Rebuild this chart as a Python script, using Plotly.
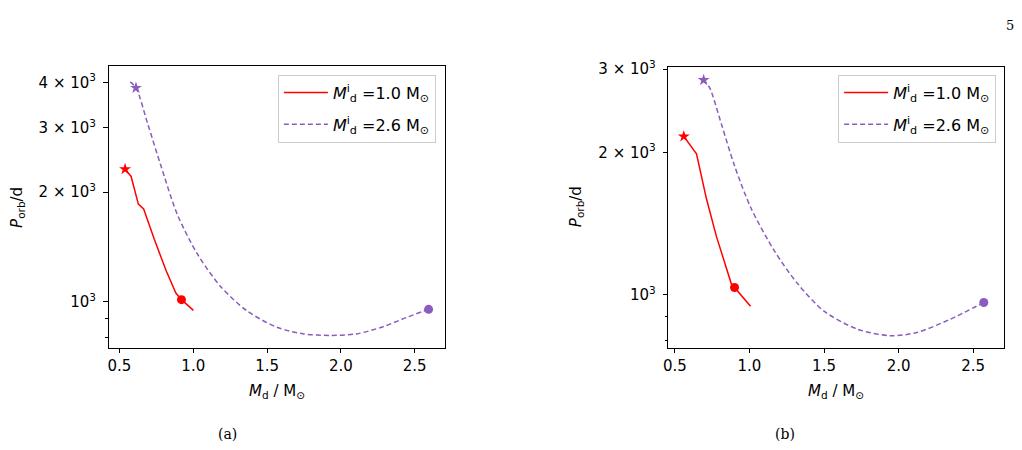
import numpy as np
import plotly.graph_objects as go

# ---------------- data ----------------
# panel (a)
red_a_m = [1.001, 0.920, 0.882, 0.815, 0.736, 0.664, 0.628, 0.579, 0.538]
red_a_p = [948, 1014, 1057, 1221, 1485, 1799, 1854, 2208, 2312]
pur_a_m = [2.594, 2.443, 2.286, 2.106, 1.926, 1.747, 1.567, 1.365, 1.185, 1.028, 0.893, 0.781, 0.691, 0.612, 0.567]
pur_a_p = [954, 906, 855, 817, 809, 817, 852, 944, 1102, 1353, 1733, 2361, 3083, 3864, 4029]
red_a_star = (0.538, 2312)
red_a_dot = (0.920, 1014)
pur_a_star = (0.612, 3864)
pur_a_dot = (2.594, 954)

# panel (b)
red_b_m = [1.007, 0.900, 0.878, 0.778, 0.711, 0.645, 0.560]
red_b_p = [946, 1037, 1057, 1331, 1600, 1987, 2162]
pur_b_m = [2.571, 2.344, 2.122, 1.944, 1.722, 1.500, 1.322, 1.167, 1.011, 0.900, 0.811, 0.733, 0.693]
pur_b_p = [964, 888, 833, 820, 847, 924, 1057, 1239, 1524, 1874, 2301, 2741, 2844]
red_b_star = (0.560, 2162)
red_b_dot = (0.900, 1037)
pur_b_star = (0.693, 2844)
pur_b_dot = (2.571, 964)

labels = ["<i>M</i><sup>i</sup><sub>d</sub> =1.0 M<sub>⊙</sub>",
          "<i>M</i><sup>i</sup><sub>d</sub> =2.6 M<sub>⊙</sub>"]

x_ticks = [0.5, 1.0, 1.5, 2.0, 2.5]
x_ticktext = ["0.5", "1.0", "1.5", "2.0", "2.5"]
y_ticks_a = [1000, 2000, 3000, 4000]
y_ticktext_a = ["10<sup>3</sup>", "2 × 10<sup>3</sup>", "3 × 10<sup>3</sup>", "4 × 10<sup>3</sup>"]
y_ticks_b = [1000, 2000, 3000]
y_ticktext_b = ["10<sup>3</sup>", "2 × 10<sup>3</sup>", "3 × 10<sup>3</sup>"]
y_minor = [800, 900]

RED = "#ff0000"
PURPLE = "#8a5cbf"
FONT = "DejaVu Sans"

fig = go.Figure()

def add_panel(xa, ya, leg, rm, rp, pm, pp, rstar, rdot, pstar, pdot):
    fig.add_trace(go.Scatter(x=rm, y=rp, mode="lines", line=dict(color=RED, width=1.5),
                             name=labels[0], xaxis=xa, yaxis=ya, legend=leg, legendgroup=leg + "r"))
    fig.add_trace(go.Scatter(x=pm, y=pp, mode="lines",
                             line=dict(color=PURPLE, width=1.5, dash="5px,3px", shape="spline", smoothing=0.8),
                             name=labels[1], xaxis=xa, yaxis=ya, legend=leg, legendgroup=leg + "p"))
    fig.add_trace(go.Scatter(x=[rstar[0]], y=[rstar[1]], mode="markers",
                             marker=dict(symbol="star", size=9, color=RED),
                             showlegend=False, xaxis=xa, yaxis=ya))
    fig.add_trace(go.Scatter(x=[rdot[0]], y=[rdot[1]], mode="markers",
                             marker=dict(symbol="circle", size=9, color=RED),
                             showlegend=False, xaxis=xa, yaxis=ya))
    fig.add_trace(go.Scatter(x=[pstar[0]], y=[pstar[1]], mode="markers",
                             marker=dict(symbol="star", size=9, color=PURPLE),
                             showlegend=False, xaxis=xa, yaxis=ya))
    fig.add_trace(go.Scatter(x=[pdot[0]], y=[pdot[1]], mode="markers",
                             marker=dict(symbol="circle", size=9, color=PURPLE),
                             showlegend=False, xaxis=xa, yaxis=ya))

add_panel("x", "y", "legend", red_a_m, red_a_p, pur_a_m, pur_a_p, red_a_star, red_a_dot, pur_a_star, pur_a_dot)
add_panel("x2", "y2", "legend2", red_b_m, red_b_p, pur_b_m, pur_b_p, red_b_star, red_b_dot, pur_b_star, pur_b_dot)

axis_common = dict(showgrid=False, zeroline=False, showline=True, linecolor="black", linewidth=1,
                   mirror=True, ticks="outside", ticklen=4.5, tickwidth=1, tickcolor="black",
                   tickfont=dict(family=FONT, size=15, color="black"))

xcommon = dict(axis_common, tickmode="array", tickvals=x_ticks, ticktext=x_ticktext)

minor = dict(tickmode="array", tickvals=y_minor, ticks="outside", ticklen=2.7, tickwidth=1, tickcolor="black")

legend_common = dict(xanchor="right", yanchor="top", bgcolor="white", bordercolor="#cccccc",
                     borderwidth=1, font=dict(family=FONT, size=16, color="black"),
                     tracegroupgap=8, itemwidth=44)

fig.update_layout(
    width=1022, height=450,
    margin=dict(l=0, r=0, t=0, b=0),
    paper_bgcolor="white", plot_bgcolor="white",
    font=dict(family=FONT, size=15, color="black"),
    xaxis=dict(xcommon, domain=[0.1018, 0.4325], range=[0.426, 2.704], anchor="y"),
    yaxis=dict(axis_common, domain=[0.2316, 0.870], type="log",
               range=[np.log10(748), np.log10(4426)], anchor="x",
               tickmode="array", tickvals=y_ticks_a, ticktext=y_ticktext_a, minor=minor,
               ticklabelstandoff=4),
    xaxis2=dict(xcommon, domain=[0.6522, 0.9824], range=[0.456, 2.707], anchor="y2"),
    yaxis2=dict(axis_common, domain=[0.2316, 0.868], type="log",
                range=[np.log10(773), np.log10(3027)], anchor="x2",
                tickmode="array", tickvals=y_ticks_b, ticktext=y_ticktext_b, minor=minor,
                ticklabelstandoff=4),
    legend=dict(legend_common, x=433 / 1022, y=1 - 67 / 450),
    legend2=dict(legend_common, x=996 / 1022, y=1 - 67 / 450),
)

def ann(x, y, text, size=15, family=FONT, angle=0):
    fig.add_annotation(x=x / 1022, y=1 - y / 450, xref="paper", yref="paper", text=text,
                       showarrow=False, xanchor="center", yanchor="middle", textangle=angle,
                       font=dict(family=family, size=size, color="black"))

# axis titles
ann(13, 202, "<i>P</i><sub>orb</sub>/d", angle=-90)
ann(575, 202, "<i>P</i><sub>orb</sub>/d", angle=-90)
ann(273, 390, "<i>M</i><sub>d</sub> / M<sub>⊙</sub>")
ann(835, 390, "<i>M</i><sub>d</sub> / M<sub>⊙</sub>")
# captions and page number
ann(224, 434, "(a)", size=14, family="DejaVu Serif")
ann(784, 434, "(b)", size=14, family="DejaVu Serif")
ann(1010, 17, "5", size=13, family="DejaVu Serif")

fig.write_html("out.html")
